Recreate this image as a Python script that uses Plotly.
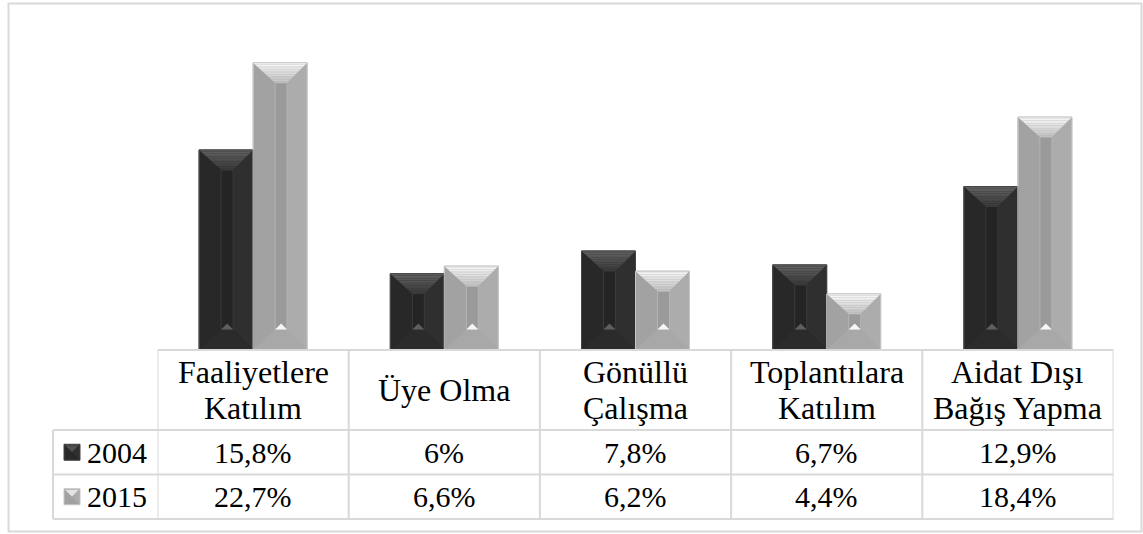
import plotly.graph_objects as go

# ---------------- data ----------------
categories = ["Faaliyetlere<br>Katılım", "Üye Olma", "Gönüllü<br>Çalışma",
              "Toplantılara<br>Katılım", "Aidat Dışı<br>Bağış Yapma"]
series_names = ["2004", "2015"]
values_2004 = [15.8, 6.0, 7.8, 6.7, 12.9]
values_2015 = [22.7, 6.6, 6.2, 4.4, 18.4]

# ---------------- layout constants ----------------
W, H = 1143, 534
PX_X0, PX_X1 = 157.5, 1113.5          # plot area left/right (px)
PX_BASE, PX_TOP = 349.5, 33.75        # y=0 and y=YMAX (px)
YMAX = 25
NCAT = len(categories)
UX = (NCAT) / (PX_X1 - PX_X0)        # data units per px (x)
UY = YMAX / (PX_BASE - PX_TOP)       # data units per px (y)
BAR_W = 54 * UX

FONT = "Liberation Serif, Times New Roman, serif"
FS_HDR = 32
FS = 30
GRID = "#d9d9d9"


def py(px):
    return 1 - px / H


def px_(px):
    return px / W


def fmt(v):
    s = f"{v:.1f}"
    if s.endswith(".0"):
        s = s[:-2]
    return s.replace(".", ",") + "%"


styles = {
    "2004": dict(left="#282828", right="#2f2f2f", inner="#242424",
                 top0="#626262", top1="#383838", bottom="#2b2b2b",
                 tri="#5e5e5e", line="#444444", edge="#3a3a3a"),
    "2015": dict(left="#a2a2a2", right="#acacac", inner="#9a9a9a",
                 top0="#fafafa", top1="#c0c0c0", bottom="#a8a8a8",
                 tri="#f6f6f6", line="#c6c6c6", edge="#b4b4b4"),
}


def mix(c0, c1, t):
    a = [int(c0[i:i + 2], 16) for i in (1, 3, 5)]
    b = [int(c1[i:i + 2], 16) for i in (1, 3, 5)]
    return "#" + "".join(f"{round(a[k] + (b[k] - a[k]) * t):02x}" for k in range(3))


def poly(pts):
    return "M " + " L ".join(f"{x:.5f},{y:.5f}" for x, y in pts) + " Z"


fig = go.Figure()
shapes = []
xs = list(range(NCAT))
for name, vals, off in [("2004", values_2004, -BAR_W), ("2015", values_2015, 0.0)]:
    st = styles[name]
    fig.add_trace(go.Bar(
        x=xs, y=vals, name=name, width=BAR_W, offset=off,
        marker=dict(color=st["left"], line=dict(color=st["line"], width=1)),
        hoverinfo="skip"))
    # bevel decoration computed from the data values
    il, ir = 22 * UX, 20 * UX
    dt, db, th = 20 * UY, 20 * UY, 6 * UY
    for i, v in enumerate(vals):
        L = i + off
        R = L + BAR_W
        shapes.append(dict(type="path", xref="x", yref="y", layer="above", line=dict(width=0),
                           fillcolor=st["right"],
                           path=poly([(R, v), (R - ir, v - dt), (R - ir, db), (R, 0)])))
        shapes.append(dict(type="path", xref="x", yref="y", layer="above",
                           line=dict(width=1, color=st["edge"]),
                           fillcolor=st["inner"],
                           path=poly([(L + il, v - dt), (R - ir, v - dt), (R - ir, db), (L + il, db)])))
        shapes.append(dict(type="path", xref="x", yref="y", layer="above", line=dict(width=0),
                           fillcolor=st["bottom"],
                           path=poly([(L, 0), (R, 0), (R - ir, db), (L + il, db)])))
        nb = 12
        for k in range(nb):
            t0, t1 = k / nb, (k + 1) / nb
            shapes.append(dict(type="path", xref="x", yref="y", layer="above", line=dict(width=0),
                               fillcolor=mix(st["top0"], st["top1"], (k + 0.5) / nb),
                               path=poly([(L + il * t0, v - dt * t0), (R - ir * t0, v - dt * t0),
                                          (R - ir * t1, v - dt * t1), (L + il * t1, v - dt * t1)])))
        cx = (L + il + R - ir) / 2
        shapes.append(dict(type="path", xref="x", yref="y", layer="above", line=dict(width=0),
                           fillcolor=st["tri"],
                           path=poly([(L + il, db), (R - ir, db), (cx, db + th)])))
        shapes.append(dict(type="rect", xref="x", yref="y", layer="above",
                           x0=L, x1=R, y0=0, y1=v, line=dict(color=st["line"], width=1)))

# ---------------- data table ----------------
ROW_Y = [350, 430, 474.5, 519]
LEFT_X = 53
line = dict(color=GRID, width=2)
shapes.append(dict(type="line", xref="x", yref="paper", x0=-0.5, x1=NCAT - 0.5,
                   y0=py(ROW_Y[0]), y1=py(ROW_Y[0]), line=line, layer="above"))
for yy in ROW_Y[1:]:
    shapes.append(dict(type="line", xref="paper", yref="paper", x0=px_(LEFT_X), x1=px_(PX_X1),
                       y0=py(yy), y1=py(yy), line=line, layer="above"))
for i in range(NCAT + 1):
    shapes.append(dict(type="line", xref="x", yref="paper", x0=i - 0.5, x1=i - 0.5,
                       y0=py(ROW_Y[0]), y1=py(ROW_Y[-1]), line=line, layer="above"))
shapes.append(dict(type="line", xref="paper", yref="paper", x0=px_(LEFT_X), x1=px_(LEFT_X),
                   y0=py(ROW_Y[1]), y1=py(ROW_Y[-1]), line=line, layer="above"))
shapes.append(dict(type="rect", xref="paper", yref="paper", x0=px_(8.5), x1=px_(1141.5),
                   y0=py(531.5), y1=py(3.5), line=dict(color=GRID, width=2), layer="below"))

annotations = []
hdr_mid = (ROW_Y[0] + ROW_Y[1]) / 2
for i, cat in enumerate(categories):
    lines = cat.split("<br>")
    n = len(lines)
    for j, t in enumerate(lines):
        yc = hdr_mid + (j - (n - 1) / 2) * 36
        annotations.append(dict(x=i, xref="x", y=py(yc), yref="paper", text=t, showarrow=False,
                                xanchor="center", yanchor="middle",
                                font=dict(family=FONT, size=FS_HDR, color="#000000")))

for r, (name, vals) in enumerate([("2004", values_2004), ("2015", values_2015)]):
    yc = (ROW_Y[r + 1] + ROW_Y[r + 2]) / 2
    for i, v in enumerate(vals):
        annotations.append(dict(x=i, xref="x", y=py(yc), yref="paper", text=fmt(v), showarrow=False,
                                xanchor="center", yanchor="middle",
                                font=dict(family=FONT, size=FS, color="#000000")))
    annotations.append(dict(x=px_(85), xref="paper", y=py(yc), yref="paper", text=name,
                            showarrow=False, xanchor="left", yanchor="middle",
                            font=dict(family=FONT, size=FS, color="#000000")))
    st = styles[name]
    sx0, sx1 = 64, 80
    sy0, sy1 = yc - 8, yc + 8
    shapes.append(dict(type="rect", xref="paper", yref="paper", x0=px_(sx0), x1=px_(sx1),
                       y0=py(sy1), y1=py(sy0), fillcolor=st["left"],
                       line=dict(color=st["line"], width=1), layer="above"))
    shapes.append(dict(type="path", xref="paper", yref="paper", layer="above", line=dict(width=0),
                       fillcolor=mix(st["top0"], st["top1"], 0.4),
                       path=poly([(px_(sx0 + 1), py(sy0 + 1)), (px_(sx1 - 1), py(sy0 + 1)),
                                  (px_((sx0 + sx1) / 2), py(yc))])))
    shapes.append(dict(type="path", xref="paper", yref="paper", layer="above", line=dict(width=0),
                       fillcolor=st["right"],
                       path=poly([(px_(sx1 - 1), py(sy0 + 1)), (px_(sx1 - 1), py(sy1 - 1)),
                                  (px_((sx0 + sx1) / 2), py(yc))])))

fig.update_layout(
    width=W, height=H,
    margin=dict(l=0, r=0, t=0, b=0),
    paper_bgcolor="#ffffff", plot_bgcolor="#ffffff",
    showlegend=False,
    barmode="overlay",
    font=dict(family=FONT),
    xaxis=dict(domain=[PX_X0 / W, PX_X1 / W], range=[-0.5, NCAT - 0.5], visible=False,
               fixedrange=True),
    yaxis=dict(domain=[1 - PX_BASE / H, 1 - PX_TOP / H], range=[0, YMAX], visible=False,
               fixedrange=True),
    shapes=shapes,
    annotations=annotations,
)

fig.write_html("out.html", config=dict(displayModeBar=False),
               post_script="document.body.style.margin='0px';")
